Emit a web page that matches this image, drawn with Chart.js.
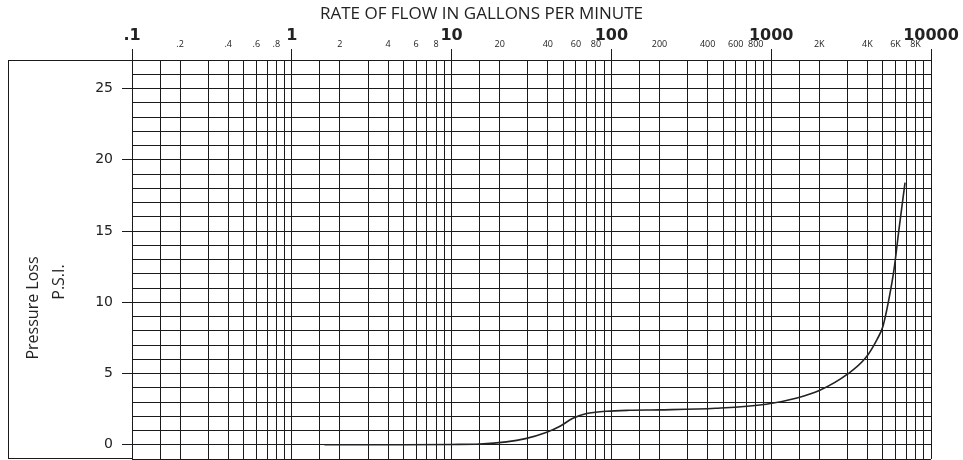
<!DOCTYPE html>
<html>
<head>
<meta charset="utf-8">
<script src="https://cdn.jsdelivr.net/npm/chart.js@4"></script>
<style>
  html, body { margin: 0; padding: 0; background: #fff; }
  #chart { display: block; }
</style>
</head>
<body>
<canvas id="chart" width="963" height="460"></canvas>
<script>
// flow (gpm) vs pressure loss (psi)
const flowGpm = [1.6, 5, 10, 15, 22, 29, 39, 48, 57, 70, 93, 130, 200, 450, 930, 1450, 2000, 3000, 3900, 4600, 5000, 5450, 5870, 6300, 6880];
const pressurePsi = [0, 0, 0.02, 0.05, 0.2, 0.43, 0.86, 1.32, 1.84, 2.19, 2.35, 2.42, 2.45, 2.56, 2.84, 3.28, 3.8, 4.95, 6.1, 7.4, 8.3, 10.2, 12.3, 15.1, 18.4];

// top axis: grid lines at these multiples of each decade
const decades = [0.1, 1, 10, 100, 1000];
const gridMultipliers = [1, 1.5, 2, 3, 4, 5, 6, 7, 8, 9];
const majorValues = [0.1, 1, 10, 100, 1000, 10000];
const majorLabels = ['.1', '1', '10', '100', '1000', '10000'];
const minorValues = [0.2, 0.4, 0.6, 0.8, 2, 4, 6, 8, 20, 40, 60, 80, 200, 400, 600, 800, 2000, 4000, 6000, 8000];
const minorLabels = ['.2', '.4', '.6', '.8', '2', '4', '6', '8', '20', '40', '60', '80', '200', '400', '600', '800', '2K', '4K', '6K', '8K'];

// left axis
const yMin = -1;
const yMax = 27;
const yLabelValues = [0, 5, 10, 15, 20, 25];
const yLabels = ['0', '5', '10', '15', '20', '25'];

const lineColor = '#1a1a1a';

function findIndex(list, v) {
    for (let i = 0; i < list.length; i++) {
        if (Math.abs(list[i] - v) / list[i] < 1e-6) return i;
    }
    return -1;
}

function isMajor(v) {
    return findIndex(majorValues, v) >= 0;
}

const xGridValues = [];
decades.forEach(d => gridMultipliers.forEach(m => xGridValues.push(d * m)));
xGridValues.push(10000);

const yGridValues = [];
for (let v = yMin; v <= yMax; v++) yGridValues.push(v);

const frame = {
    id: 'frame',
    afterDraw(chart) {
        const ctx = chart.ctx;
        const area = chart.chartArea;
        ctx.save();
        ctx.strokeStyle = lineColor;
        ctx.lineWidth = 1;
        ctx.strokeRect(8.5, area.top + 0.5, area.left - 8, area.bottom - area.top - 1);

        ctx.fillStyle = '#222';
        ctx.textAlign = 'center';
        ctx.textBaseline = 'middle';
        ctx.font = '16px "Open Sans"';
        ctx.translate(33, 308);
        ctx.rotate(-Math.PI / 2);
        ctx.fillText('Pressure Loss', 0, 0);
        ctx.rotate(Math.PI / 2);
        ctx.translate(26, -26);
        ctx.rotate(-Math.PI / 2);
        ctx.fillText('P.S.I.', 0, 0);
        ctx.restore();
    }
};

const chart = new Chart(document.getElementById('chart').getContext('2d'), {
    type: 'line',
    data: {
        datasets: [{
            data: flowGpm.map((x, i) => ({ x: x, y: pressurePsi[i] })),
            borderColor: '#222',
            borderWidth: 1.6,
            pointRadius: 0,
            cubicInterpolationMode: 'monotone',
            fill: false
        }]
    },
    options: {
        responsive: false,
        animation: false,
        devicePixelRatio: 1,
        layout: { padding: { left: 0, right: 0, top: 0, bottom: 1 } },
        plugins: {
            legend: { display: false },
            tooltip: { enabled: false },
            title: {
                display: true,
                text: 'RATE OF FLOW IN GALLONS PER MINUTE',
                color: '#222',
                font: { family: 'Open Sans', size: 17, weight: 'normal', lineHeight: '20px' },
                padding: { top: 4, bottom: 0 }
            }
        },
        scales: {
            x: {
                type: 'logarithmic',
                position: 'top',
                min: 0.1,
                max: 10000,
                afterBuildTicks: scale => {
                    scale.ticks = xGridValues.map(v => ({ value: v }));
                },
                afterFit: scale => {
                    scale.height = 36;
                    scale.paddingRight = 32;
                },
                grid: {
                    color: lineColor,
                    lineWidth: 1,
                    tickLength: 11,
                    tickColor: c => isMajor(c.tick.value) ? lineColor : 'rgba(0,0,0,0)'
                },
                border: { color: lineColor },
                ticks: {
                    autoSkip: false,
                    maxRotation: 0,
                    minRotation: 0,
                    padding: 0,
                    color: '#222',
                    callback: v => {
                        let i = findIndex(majorValues, v);
                        if (i >= 0) return majorLabels[i];
                        i = findIndex(minorValues, v);
                        return i >= 0 ? minorLabels[i] : '';
                    },
                    font: c => isMajor(c.tick.value)
                        ? { family: 'DejaVu Sans', size: 16, weight: 'bold', lineHeight: 1.7 }
                        : { family: 'Open Sans', size: 9, lineHeight: 1.1 }
                }
            },
            y: {
                type: 'linear',
                min: yMin,
                max: yMax,
                afterBuildTicks: scale => {
                    scale.ticks = yGridValues.map(v => ({ value: v }));
                },
                afterFit: scale => {
                    scale.width = 132;
                    scale.paddingTop = 0;
                    scale.paddingBottom = 0;
                },
                grid: {
                    color: lineColor,
                    lineWidth: 1,
                    tickLength: 10,
                    tickColor: c => yLabelValues.includes(c.tick.value) ? lineColor : 'rgba(0,0,0,0)'
                },
                border: { color: lineColor },
                ticks: {
                    autoSkip: false,
                    padding: 9,
                    color: '#222',
                    font: { family: 'DejaVu Sans', size: 14 },
                    callback: v => {
                        const i = yLabelValues.indexOf(v);
                        return i >= 0 ? yLabels[i] : '';
                    }
                }
            }
        }
    },
    plugins: [frame]
});
</script>
</body>
</html>
